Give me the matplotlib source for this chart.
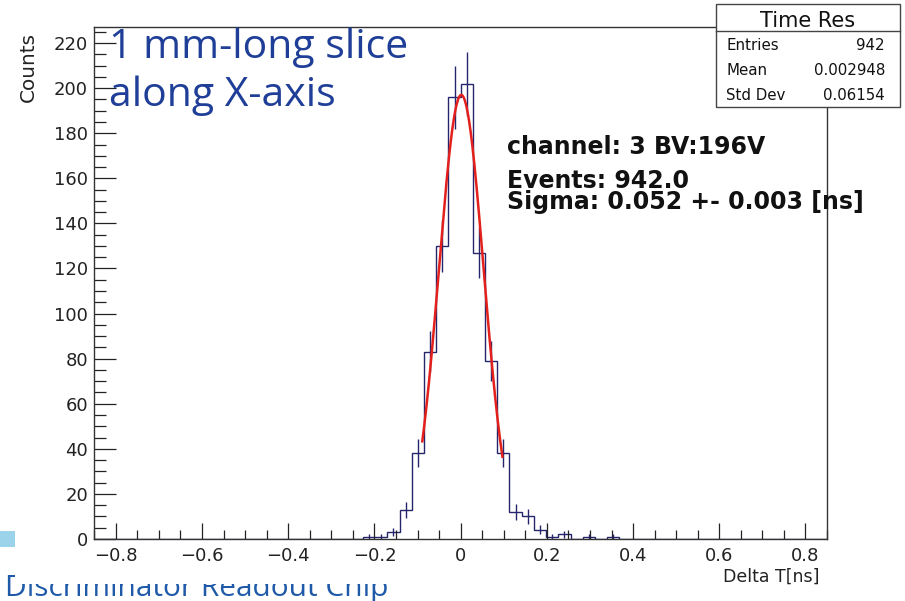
import numpy as np
import matplotlib.pyplot as plt
from matplotlib.patches import Rectangle
from matplotlib.lines import Line2D
from matplotlib.ticker import MultipleLocator, FuncFormatter

# time difference histogram: 60 bins on [-0.85, 0.85] ns
edges = np.linspace(-0.85, 0.85, 61)
first_filled = 22
filled_counts = [1, 1, 3, 13, 38, 83, 130, 196, 202, 127, 79,
                 38, 12, 10, 4, 1, 2, 0, 1, 0, 1]
counts = np.zeros(60)
counts[first_filled:first_filled + len(filled_counts)] = filled_counts

# gaussian fit result
fit_amp = 197.0
fit_mean = 0.0015
fit_sigma = 0.052
fit_sigma_err = 0.003
fit_range = (-0.089, 0.097)

# stat box
stat_title = "Time Res"
stat_mean = "0.002948"
stat_std = "0.06154"
channel = 3
bias_v = 196

W, H = 905, 601
fig = plt.figure(figsize=(W / 100, H / 100), dpi=100)


def fx(x):
    return x / W


def fy(y):
    return 1 - y / H


# slide text underneath the pasted plot (only its lower part shows)
fig.text(fx(5), fy(596), "Discriminator Readout Chip", family="Open Sans",
         fontsize=21.5, color="#1e5aa8", ha="left", va="baseline", zorder=-3)
fig.patches.append(Rectangle((fx(15), fy(584)), 1 - fx(15), 1 - fy(584) + 0.01,
                             transform=fig.transFigure, facecolor="white",
                             edgecolor="none", zorder=-2))
fig.patches.append(Rectangle((fx(0), fy(547)), fx(15), 16 / H,
                             transform=fig.transFigure, facecolor="#9bd4ea",
                             edgecolor="none", zorder=-1))

ax = fig.add_axes([fx(94.3), fy(539), (827 - 94.3) / W, (539 - 27.3) / H])
ax.set_zorder(0)

navy = "#25256b"
ax.stairs(counts, edges, color=navy, linewidth=1.0)
centers = 0.5 * (edges[:-1] + edges[1:])
nz = counts > 0
ax.errorbar(centers[nz], counts[nz], yerr=np.sqrt(counts[nz]), fmt="none",
            ecolor=navy, elinewidth=1.0, capsize=0)

xf = np.linspace(fit_range[0], fit_range[1], 200)
yf = fit_amp * np.exp(-0.5 * ((xf - fit_mean) / fit_sigma) ** 2)
ax.plot(xf, yf, color="#e3201c", linewidth=1.8)

ax.set_xlim(-0.85, 0.85)
ax.set_ylim(0, 227)
ax.xaxis.set_major_locator(MultipleLocator(0.2))
ax.xaxis.set_minor_locator(MultipleLocator(0.05))
ax.yaxis.set_major_locator(MultipleLocator(20))
ax.yaxis.set_minor_locator(MultipleLocator(5))
ax.xaxis.set_major_formatter(FuncFormatter(
    lambda v, _: "0" if abs(v) < 1e-9 else f"{v:.1f}".replace("-", "\u2212")))
ax.tick_params(which="both", direction="in", top=False, right=False,
               color="#222222", width=0.9, labelsize=13, labelcolor="#222222")
ax.tick_params(axis="x", which="major", length=11.5, pad=6)
ax.tick_params(axis="x", which="minor", length=6.5)
ax.tick_params(axis="y", which="major", length=16, pad=4.5)
ax.tick_params(axis="y", which="minor", length=8.4)
for s in ax.spines.values():
    s.set_color("#333333")
    s.set_linewidth(1.0)

fig.text(fx(28), fy(31.7), "Counts", rotation=90, fontsize=14.4,
         color="#222222", ha="center", va="top")
fig.text(fx(819), fy(581.7), "Delta T[ns]", fontsize=12.5,
         color="#222222", ha="right", va="baseline")

# fit summary
fig.text(fx(506.7), fy(154.3), f"channel: {channel} BV:{bias_v}V",
         fontsize=17, weight="bold", color="#111111", va="baseline")
fig.text(fx(506.7), fy(188), f"Events: {counts.sum():.1f}",
         fontsize=17, weight="bold", color="#111111", va="baseline")
fig.text(fx(506.7), fy(209),
         f"Sigma: {fit_sigma:.3f} +- {fit_sigma_err:.3f} [ns]",
         fontsize=17, weight="bold", color="#111111", va="baseline")

# stat box
bx0, bx1, by0, by1 = 716, 900, 4, 107.3
fig.patches.append(Rectangle((fx(bx0), fy(by1)), fx(bx1) - fx(bx0),
                             fy(by0) - fy(by1), transform=fig.transFigure,
                             facecolor="white", edgecolor="#444444",
                             linewidth=1.0, zorder=10))
fig.lines.append(Line2D([fx(bx0), fx(bx1)], [fy(30.7), fy(30.7)],
                        transform=fig.transFigure, color="#444444",
                        linewidth=1.0, zorder=11))
fig.text(fx(808), fy(26.7), stat_title, fontsize=15, color="#111111",
         ha="center", va="baseline", zorder=12)
rows = [("Entries", f"{int(counts.sum())}"),
        ("Mean", stat_mean),
        ("Std Dev", stat_std)]
for i, (lab, val) in enumerate(rows):
    yb = 50 + 25 * i
    fig.text(fx(726), fy(yb), lab, fontsize=10.8, color="#111111",
             ha="left", va="baseline", zorder=12)
    fig.text(fx(885), fy(yb), val, fontsize=10.8, color="#111111",
             ha="right", va="baseline", zorder=12)

# slide caption over the plot
blue = "#1f3e97"
fig.text(fx(109), fy(58.3), "1 mm-long slice", family="Open Sans",
         fontsize=29.5, color=blue, va="baseline", zorder=20)
fig.text(fx(109), fy(106), "along X-axis", family="Open Sans",
         fontsize=29.5, color=blue, va="baseline", zorder=20)

fig.savefig("out.png", dpi=100)
